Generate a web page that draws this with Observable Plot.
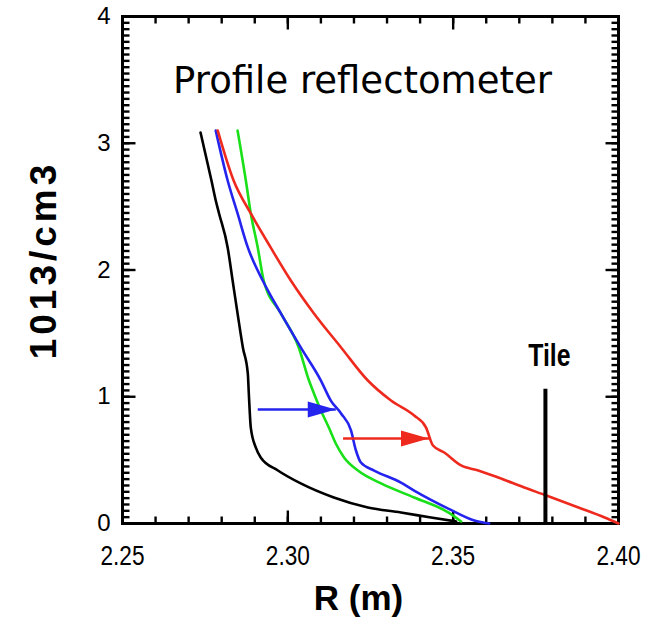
<!DOCTYPE html>
<html><head><meta charset="utf-8">
<script src="https://cdn.jsdelivr.net/npm/d3@7"></script>
<script src="https://cdn.jsdelivr.net/npm/@observablehq/plot@0.6"></script>
<style>body{margin:0;background:#fff}</style>
</head><body><div id="chart"></div>
<script>
// ---- data ----
const blackR = [2.2736, 2.2769, 2.2782, 2.2792, 2.2818, 2.2833, 2.2848, 2.2864, 2.2879, 2.2882, 2.2888, 2.2903, 2.2918, 2.2970, 2.3039, 2.3139, 2.3242, 2.3342, 2.3433, 2.3509];
const blackN = [3.085, 2.706, 2.548, 2.446, 2.178, 1.917, 1.657, 1.389, 1.183, 1.026, 0.757, 0.600, 0.521, 0.418, 0.316, 0.205, 0.126, 0.087, 0.047, 0.016];
const greenR = [2.2848, 2.2873, 2.2888, 2.2909, 2.2927, 2.2979, 2.3033, 2.3064, 2.3079, 2.3100, 2.3124, 2.3145, 2.3170, 2.3212, 2.3282, 2.3382, 2.3485, 2.3524];
const greenN = [3.100, 2.706, 2.446, 2.178, 1.917, 1.657, 1.389, 1.128, 1.026, 0.892, 0.757, 0.631, 0.521, 0.418, 0.316, 0.205, 0.087, 0.016];
const blueR = [2.2782, 2.2818, 2.2848, 2.2879, 2.2924, 2.2979, 2.3039, 2.3100, 2.3130, 2.3161, 2.3191, 2.3206, 2.3221, 2.3261, 2.3342, 2.3382, 2.3485, 2.3564, 2.3609];
const blueN = [3.100, 2.706, 2.446, 2.178, 1.917, 1.657, 1.389, 1.128, 0.970, 0.868, 0.734, 0.576, 0.481, 0.418, 0.323, 0.260, 0.118, 0.024, 0.0];
const redR = [2.2788, 2.2836, 2.2888, 2.2948, 2.3009, 2.3079, 2.3161, 2.3242, 2.3312, 2.3382, 2.3418, 2.3439, 2.3473, 2.3524, 2.3576, 2.3636, 2.3715, 2.3782, 2.3879, 2.3958, 2.4000];
const redN = [3.100, 2.706, 2.446, 2.178, 1.917, 1.657, 1.389, 1.128, 0.970, 0.852, 0.757, 0.615, 0.560, 0.458, 0.418, 0.363, 0.284, 0.221, 0.126, 0.047, 0.0];

const arrowColor = ["blue", "red"];
const arrowR1 = [2.2909, 2.3167];
const arrowR2 = [2.3145, 2.3427];
const arrowN = [0.899, 0.671];

const tileR = [2.3779];
const tileTop = [1.06];
const tileLabel = ["Tile"];

const xMajorTicks = [2.25, 2.30, 2.35, 2.40];
const xTickLabels = ["2.25", "2.30", "2.35", "2.40"];
const yMajorTicks = [0, 1, 2, 3, 4];
const yTickLabels = ["0", "1", "2", "3", "4"];
const xMinorTicks = [2.25, 2.26, 2.27, 2.28, 2.29, 2.30, 2.31, 2.32, 2.33, 2.34, 2.35, 2.36, 2.37, 2.38, 2.39, 2.40];
const yMinorTicks = Array.from({length: 81}, (_, i) => i / 20);

const titleText = ["Profile reflectometer"];
const xLabel = ["R (m)"];
const yLabel = ["1013/cm3"];

// ---- layout ----
const W = 669, H = 619, mT = 16, mR = 51, mB = 96, mL = 122;
const plotW = W - mL - mR, plotH = H - mT - mB;
const xDom = [2.25, 2.40], yDom = [0, 4];
const xPx = px => px / plotW * (xDom[1] - xDom[0]);
const yPx = px => px / plotH * (yDom[1] - yDom[0]);

// ---- build ----
const colors = {black: "#000000", green: "#19e019", blue: "#2424ee", red: "#ee2a1e"};
const series = [
  {name: "black", R: blackR, n: blackN},
  {name: "green", R: greenR, n: greenN},
  {name: "blue", R: blueR, n: blueN},
  {name: "red", R: redR, n: redN}
];
const rows = series.flatMap(s => s.R.map((r, i) => ({name: s.name, R: r, n: s.n[i]})));
const arrows = arrowColor.map((c, i) => ({name: c, R1: arrowR1[i], R2: arrowR2[i], n: arrowN[i]}));
const tile = tileR.map((r, i) => ({R: r, top: tileTop[i], label: tileLabel[i]}));

const arrowHead = {
  draw(ctx) {
    ctx.moveTo(0, 0);
    ctx.lineTo(-28, -8);
    ctx.lineTo(-28, 8);
    ctx.closePath();
  }
};

// inward tick segments (as links, in data units)
const MINOR = 7, MAJOR = 13;
const tickLinks = [
  ...xMinorTicks.flatMap(v => [
    {x1: v, x2: v, y1: yDom[0], y2: yDom[0] + yPx(MINOR)},
    {x1: v, x2: v, y1: yDom[1], y2: yDom[1] - yPx(MINOR)}]),
  ...xMajorTicks.flatMap(v => [
    {x1: v, x2: v, y1: yDom[0], y2: yDom[0] + yPx(MAJOR)},
    {x1: v, x2: v, y1: yDom[1], y2: yDom[1] - yPx(MAJOR)}]),
  ...yMinorTicks.flatMap(v => [
    {x1: xDom[0], x2: xDom[0] + xPx(MINOR), y1: v, y2: v},
    {x1: xDom[1], x2: xDom[1] - xPx(MINOR), y1: v, y2: v}]),
  ...yMajorTicks.flatMap(v => [
    {x1: xDom[0], x2: xDom[0] + xPx(MAJOR), y1: v, y2: v},
    {x1: xDom[1], x2: xDom[1] - xPx(MAJOR), y1: v, y2: v}])
];

const chart = Plot.plot({
  width: W, height: H,
  marginTop: mT, marginRight: mR, marginBottom: mB, marginLeft: mL,
  x: {domain: xDom},
  y: {domain: yDom},
  style: {fontFamily: "'Liberation Sans', Arial, sans-serif", background: "#fff", color: "#000"},
  marks: [
    Plot.frame({stroke: "#000", fill: "none", strokeWidth: 3}),
    // tick labels
    Plot.axisX({anchor: "bottom", ticks: xMajorTicks, tickSize: 0, tickPadding: 22, label: null,
      tickFormat: d => xTickLabels[xMajorTicks.indexOf(d)], fontSize: 27}),
    Plot.axisY({anchor: "left", ticks: yMajorTicks, tickSize: 0, tickPadding: 12, label: null,
      tickFormat: d => yTickLabels[yMajorTicks.indexOf(d)], fontSize: 24}),
    // inward ticks
    Plot.link(tickLinks, {x1: "x1", x2: "x2", y1: "y1", y2: "y2", stroke: "#000", strokeWidth: 2.4}),
    // curves
    Plot.line(rows, {x: "R", y: "n", z: "name", stroke: d => colors[d.name], strokeWidth: 2.6, curve: "monotone-x"}),
    // arrows
    Plot.link(arrows, {x1: "R1", x2: "R2", y1: "n", y2: "n", stroke: d => colors[d.name], strokeWidth: 2.6}),
    Plot.dot(arrows, {x: "R2", y: "n", symbol: arrowHead, fill: d => colors[d.name], stroke: "none"}),
    // tile
    Plot.ruleX(tile, {x: "R", y1: 0, y2: "top", stroke: "#000", strokeWidth: 4}),
    Plot.text(tile, {x: "R", y: "top", text: "label", dy: -33, dx: 4, fontSize: 31, fontWeight: "bold"}),
    // texts
    Plot.text(titleText, {frameAnchor: "top", dy: 50, dx: -8, fontSize: 37, fontFamily: "'DejaVu Sans', Verdana, sans-serif"}),
    Plot.text(xLabel, {frameAnchor: "bottom", lineAnchor: "top", dy: 62, dx: -12, fontSize: 35, fontWeight: "bold"}),
    Plot.text(yLabel, {frameAnchor: "left", textAnchor: "middle", rotate: -90, dx: -78, dy: -10, fontSize: 37, fontWeight: "bold"})
  ]
});

const svg = d3.select(chart);
svg.selectAll('g[aria-label="x-axis tick label"] text').each(function() {
  const t = this.getAttribute("transform") || "";
  this.setAttribute("transform", t + " scale(0.84,1)");
});
svg.selectAll("text").filter(function(){ return this.textContent === "Tile"; }).each(function() {
  const t = this.getAttribute("transform") || "";
  this.setAttribute("transform", t + " scale(0.8,1)");
});
svg.selectAll("text").filter(function(){ return this.textContent === "1013/cm3"; }).style("letter-spacing", "4px");
document.getElementById("chart").appendChild(chart);
</script>
</body></html>
